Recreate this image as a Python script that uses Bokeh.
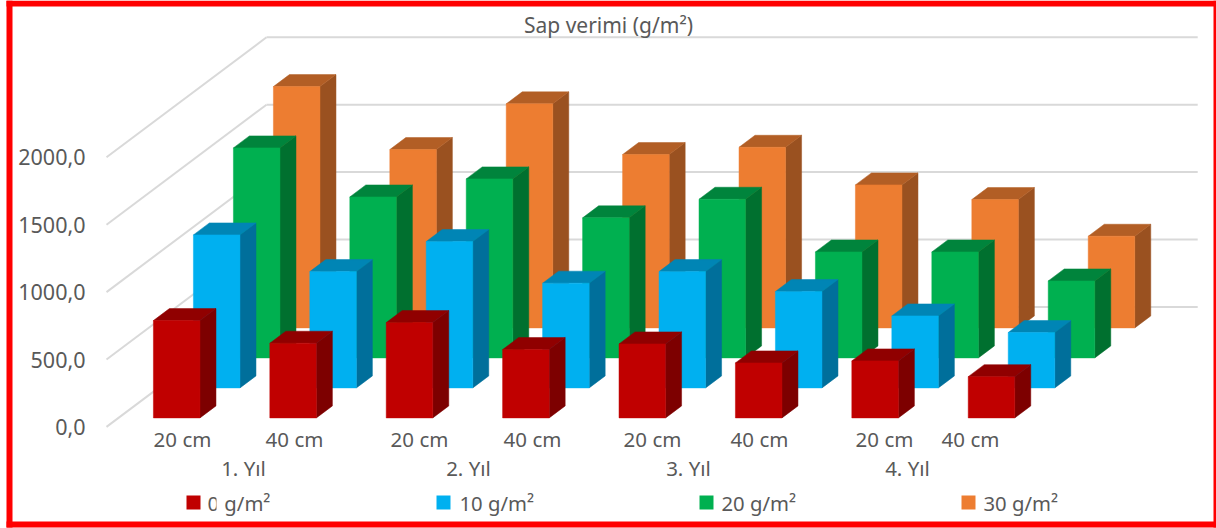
from bokeh.core.properties import value
from bokeh.embed import file_html
from bokeh.models import FixedTicker, LinearAxis, Range1d
from bokeh.plotting import figure
from bokeh.resources import INLINE

# Stem yield by year and row spacing, one list per fertiliser dose
categories = ["20 cm", "40 cm"] * 4
years = ["1. Yıl", "2. Yıl", "3. Yıl", "4. Yıl"]
dose_0 = [722, 554, 707, 507, 549, 408, 423, 306]
dose_10 = [1135, 863, 1086, 777, 863, 715, 534, 411]
dose_20 = [1558, 1194, 1328, 1039, 1177, 786, 786, 571]
dose_30 = [1790, 1323, 1662, 1286, 1340, 1061, 952, 680]
tick_values = [0, 500, 1000, 1500, 2000]
tick_labels = ["0,0", "500,0", "1000,0", "1500,0", "2000,0"]
legend_labels = ["0 g/m²", "10 g/m²", "20 g/m²", "30 g/m²"]
title_text = "Sap verimi (g/m²)"

# Face colours per series: front, top, side
series = [
    (dose_30, "#ED7D31", "#B25E25", "#9A5120"),
    (dose_20, "#00B050", "#00843C", "#00702F"),
    (dose_10, "#00B0F0", "#0085B5", "#006F9B"),
    (dose_0, "#C00000", "#900000", "#7D0000"),
]

# Projection of the 3D box onto the page
W, H = 1216, 528
PX_PER_UNIT = 0.1348
ZERO_PX = 426.4
X0 = 106
STEP = 116.4
DEPTH_X = 160
DEPTH_Y = 120 / PX_PER_UNIT
BAR_FRACTION = 0.4
BOX_DEPTH = 0.1
ROW_OFFSET = 0.075
ROW_STEP = 0.25
FONT = "Noto Sans"
TEXT_COLOR = "#595959"
GRID_COLOR = "#D9D9D9"


def from_top(px):
    """Convert a distance from the top of the page to the value scale."""
    return (ZERO_PX - px) / PX_PER_UNIT


p = figure(
    width=W, height=H, output_backend="svg", toolbar_location=None,
    x_range=Range1d(0, W), y_range=Range1d(from_top(H), from_top(0)),
    min_border=0, outline_line_color=None, background_fill_color="white",
)
p.xaxis.visible = False
p.yaxis.visible = False
p.xgrid.visible = False
p.ygrid.visible = False

# Value axis placed inside the frame, beside the side wall
axis = LinearAxis(
    ticker=FixedTicker(ticks=tick_values),
    major_label_overrides=dict(zip(tick_values, tick_labels)),
    axis_line_color=None, major_tick_line_color=None, minor_tick_line_color=None,
    major_label_text_font=FONT, major_label_text_font_size="21.5px",
    major_label_text_color=TEXT_COLOR, major_label_standoff=0,
    fixed_location=91,
)
p.add_layout(axis, "left")

# Side-wall and back-wall gridlines
p.segment(X0, tick_values, X0 + DEPTH_X, [v + DEPTH_Y for v in tick_values],
          line_color=GRID_COLOR, line_width=2)
p.segment(X0 + DEPTH_X, [v + DEPTH_Y for v in tick_values],
          X0 + DEPTH_X + STEP * len(categories), [v + DEPTH_Y for v in tick_values],
          line_color=GRID_COLOR, line_width=2)

# Bars, back row first so nearer rows overlap farther ones
n_rows = len(series)
for i, (vals, front, top, side) in enumerate(series):
    depth = ROW_OFFSET + ROW_STEP * (n_rows - 1 - i)
    bar_w = STEP * BAR_FRACTION
    left = [X0 + STEP * c + STEP * (1 - BAR_FRACTION) / 2 + depth * DEPTH_X for c in range(len(vals))]
    right = [x + bar_w for x in left]
    base = depth * DEPTH_Y
    dx = BOX_DEPTH * DEPTH_X
    dy = BOX_DEPTH * DEPTH_Y
    tops = [base + v for v in vals]
    p.patches(
        [[r, r + dx, r + dx, r] for r in right],
        [[base, base + dy, t + dy, t] for t in tops],
        fill_color=side, line_color=side, line_width=0.5,
    )
    p.patches(
        [[l, r, r + dx, l + dx] for l, r in zip(left, right)],
        [[t, t, t + dy, t + dy] for t in tops],
        fill_color=top, line_color=top, line_width=0.5,
    )
    p.quad(left=left, right=right, bottom=base, top=tops,
           fill_color=front, line_color=front, line_width=0.5)

# Category and year labels
cat_x = [182, 294, 419, 532, 652, 759, 884, 970]
year_x = [243, 468, 688, 907]
p.text(cat_x, [from_top(438.5)] * len(cat_x), text=categories, text_font=value(FONT),
       text_font_size="20.5px", text_color=TEXT_COLOR, text_align="center", text_baseline="middle")
p.text(year_x, [from_top(467.5)] * len(year_x), text=years, text_font=value(FONT),
       text_font_size="20.5px", text_color=TEXT_COLOR, text_align="center", text_baseline="middle")

# Title
p.text([608], [from_top(24)], text=[title_text], text_font=value(FONT),
       text_font_size="21px", text_color=TEXT_COLOR, text_align="center", text_baseline="middle")

# Legend row
swatch_x = [186, 436, 699, 961]
label_x = [207, 459, 721, 983]
swatch_colors = [s[1] for s in reversed(series)]
p.quad(left=swatch_x, right=[x + 14 for x in swatch_x], bottom=from_top(509), top=from_top(495),
       fill_color=swatch_colors, line_color=None)
p.text(label_x, [from_top(502)] * 4, text=legend_labels, text_font=value(FONT),
       text_font_size="20.3px", text_color=TEXT_COLOR, text_align="left", text_baseline="middle")
# The first legend label's leading digit is trimmed on its right side
p.quad(left=[216], right=[222], bottom=from_top(512), top=from_top(492),
       fill_color="white", line_color=None)

# Red frame around the whole chart
frame_left, frame_right, frame_top, frame_bottom = 6, 1216, 0, 527
thick = 6
p.quad(left=[frame_left, frame_left, frame_left, 1213],
       right=[frame_right, frame_right, frame_left + thick, frame_right],
       top=[from_top(frame_top), from_top(frame_bottom - thick), from_top(frame_top), from_top(frame_top)],
       bottom=[from_top(frame_top + thick), from_top(frame_bottom), from_top(frame_bottom), from_top(frame_bottom)],
       fill_color="#FF0000", line_color=None)

open("out.html", "w").write(file_html(p, INLINE))
